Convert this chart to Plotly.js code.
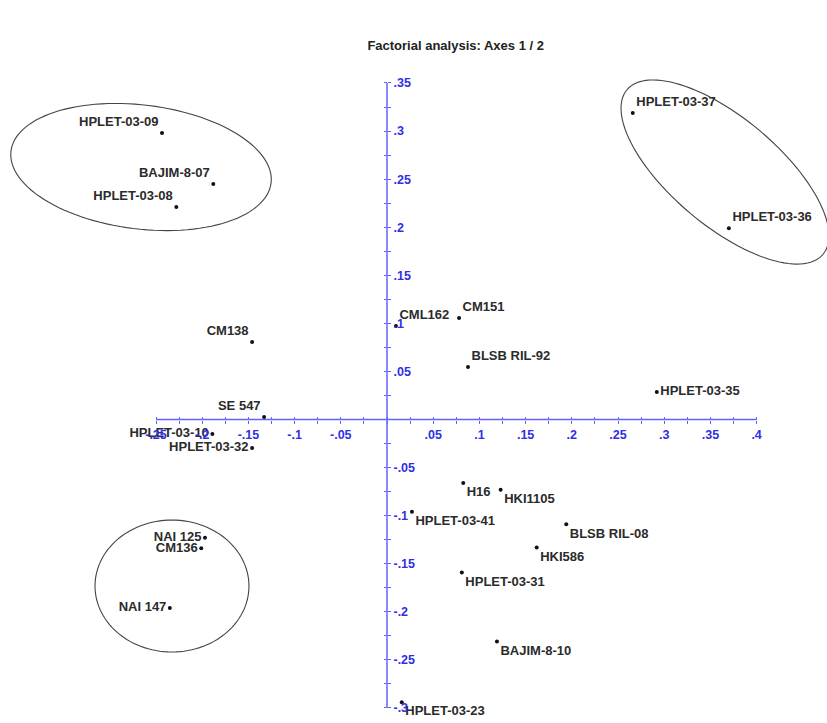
<!DOCTYPE html>
<html>
<head>
<meta charset="utf-8">
<script src="https://cdn.plot.ly/plotly-3.0.1.min.js"></script>
<style>
html,body{margin:0;padding:0;background:#fff;}
#chart{width:827px;height:723px;}
</style>
</head>
<body>
<div id="chart"></div>
<script>
// ---- data ----
var names = ["HPLET-03-09","BAJIM-8-07","HPLET-03-08","CM138","SE 547","HPLET-03-10","HPLET-03-32",
  "NAI 125","CM136","NAI 147","CML162","CM151","BLSB RIL-92","HPLET-03-35","HPLET-03-37","HPLET-03-36",
  "H16","HKI1105","HPLET-03-41","BLSB RIL-08","HKI586","HPLET-03-31","BAJIM-8-10","HPLET-03-23"];
var axis1 = [-0.2435,-0.188,-0.228,-0.146,-0.133,-0.189,-0.146,
  -0.197,-0.201,-0.235,0.0097,0.078,0.0877,0.292,0.266,0.370,
  0.0825,0.123,0.027,0.194,0.162,0.081,0.119,0.016];
var axis2 = [0.298,0.245,0.221,0.0806,0.0026,-0.015,-0.0296,
  -0.123,-0.134,-0.196,0.0972,0.1056,0.0546,0.0286,0.3187,0.199,
  -0.066,-0.073,-0.096,-0.109,-0.133,-0.159,-0.231,-0.294];

var xTickVals = [-0.25,-0.2,-0.15,-0.1,-0.05,0,0.05,0.1,0.15,0.2,0.25,0.3,0.35,0.4];
var xTickText = ["-.25","-.2","-.15","-.1","-.05","",".05",".1",".15",".2",".25",".3",".35",".4"];
var xMinorVals = [-0.225,-0.175,-0.125,-0.075,-0.025,0.025,0.075,0.125,0.175,0.225,0.275,0.325,0.375];
var yTickVals = [-0.3,-0.25,-0.2,-0.15,-0.1,-0.05,0,0.05,0.1,0.15,0.2,0.25,0.3,0.35];
var yTickText = ["-.3","-.25","-.2","-.15","-.1","-.05","",".05",".1",".15",".2",".25",".3",".35"];
var yMinorVals = [-0.275,-0.225,-0.175,-0.125,-0.075,-0.025,0.025,0.075,0.125,0.175,0.225,0.275,0.325];

// group ellipses: centre (axis units), semi-axes (axis-1 units), tilt in degrees
var groupCx = [-0.2662, 0.3658, -0.2327];
var groupCy = [0.2626, 0.2574, -0.1732];
var groupA  = [0.1418, 0.1385, 0.0833];
var groupB  = [0.0671, 0.0584, 0.0714];
var groupTilt = [-7, -40, 0];

// ---- styling ----
var labelPos = ["top left","top left","top left","top left","top left","middle left","middle left",
  "middle left","middle left","middle left","top right","top right","top right","middle right","top right","top right",
  "bottom right","bottom right","bottom right","bottom right","bottom right","bottom right","bottom right","bottom right"];

var W = 827, H = 723;
var xRange = [-0.41883, 0.47619];
var yRange = [-0.31565, 0.43630];
var FONT = "Liberation Sans, Arial, sans-serif";
var AXC = "#6262ff", LBC = "#2f2fe6";

var pxPerX = W / (xRange[1]-xRange[0]);
var pxPerY = H / (yRange[1]-yRange[0]);
var xAxisPos = (0 - yRange[0])/(yRange[1]-yRange[0]);
var yAxisPos = (0 - xRange[0])/(xRange[1]-xRange[0]);

function ellipsePath(cx, cy, a, b, deg){
  var th = deg*Math.PI/180, k = pxPerX/pxPerY, s = "";
  for (var i=0;i<=120;i++){
    var t = 2*Math.PI*i/120;
    var u = a*Math.cos(t), v = b*Math.sin(t);
    var dx = u*Math.cos(th) - v*Math.sin(th);
    var dy = u*Math.sin(th) + v*Math.cos(th);
    s += (i===0?"M":"L") + (cx+dx).toFixed(5) + "," + (cy+dy*k).toFixed(5);
  }
  return s + "Z";
}

var shapes = [
  {type:"line", xref:"x", yref:"y", x0:xTickVals[0], x1:xTickVals[xTickVals.length-1], y0:0, y1:0, line:{color:AXC, width:1.5}, layer:"below"},
  {type:"line", xref:"x", yref:"y", x0:0, x1:0, y0:yTickVals[0], y1:yTickVals[yTickVals.length-1], line:{color:AXC, width:1.5}, layer:"below"}
];
for (var g=0; g<groupCx.length; g++){
  shapes.push({type:"path", xref:"x", yref:"y", path:ellipsePath(groupCx[g],groupCy[g],groupA[g],groupB[g],groupTilt[g]),
    line:{color:"#444", width:1.1}, fillcolor:"rgba(0,0,0,0)"});
}

var traces = [
  {type:"scatter", mode:"markers+text", x:axis1, y:axis2, text:names, textposition:labelPos,
   marker:{size:4, color:"#111"}, cliponaxis:false,
   textfont:{family:FONT, size:13, color:"#2b2b2b", weight:"bold"}, hoverinfo:"text"},
  {type:"scatter", mode:"markers", x:[], y:[], xaxis:"x2", yaxis:"y2", showlegend:false, hoverinfo:"skip"}
];

var tickFont = {family:FONT, size:12.5, color:LBC, weight:"bold"};
var common = {showgrid:false, zeroline:false, showline:false, fixedrange:true, tickmode:"array", ticks:"outside", ticklen:3, tickwidth:1, tickcolor:AXC, anchor:"free"};

var layout = {
  width:W, height:H, margin:{l:0,r:0,t:0,b:0}, paper_bgcolor:"#fff", plot_bgcolor:"#fff", showlegend:false,
  title:{text:"Factorial analysis: Axes 1 / 2", x:0.551, xanchor:"center", y:1-45/H, yanchor:"middle",
    font:{family:FONT, size:13, color:"#222", weight:"bold"}},
  xaxis:Object.assign({}, common, {range:xRange, domain:[0,1], position:xAxisPos, side:"bottom",
    tickvals:xTickVals, ticktext:xTickText, tickfont:tickFont,
    minor:{tickmode:"array", tickvals:xMinorVals, ticks:"outside", ticklen:3, tickcolor:AXC, showgrid:false}}),
  yaxis:Object.assign({}, common, {range:yRange, domain:[0,1], position:yAxisPos, side:"right",
    tickvals:yTickVals, ticktext:yTickText, tickfont:tickFont,
    minor:{tickmode:"array", tickvals:yMinorVals, ticks:"outside", ticklen:3, tickcolor:AXC, showgrid:false}}),
  xaxis2:Object.assign({}, common, {range:xRange, overlaying:"x", position:xAxisPos, side:"top",
    tickvals:xTickVals, showticklabels:false,
    minor:{tickmode:"array", tickvals:xMinorVals, ticks:"outside", ticklen:3, tickcolor:AXC, showgrid:false}}),
  yaxis2:Object.assign({}, common, {range:yRange, overlaying:"y", position:yAxisPos, side:"left",
    tickvals:yTickVals, showticklabels:false,
    minor:{tickmode:"array", tickvals:yMinorVals, ticks:"outside", ticklen:3, tickcolor:AXC, showgrid:false}}),
  shapes:shapes
};

Plotly.newPlot("chart", traces, layout, {displayModeBar:false, staticPlot:true});
</script>
</body>
</html>
